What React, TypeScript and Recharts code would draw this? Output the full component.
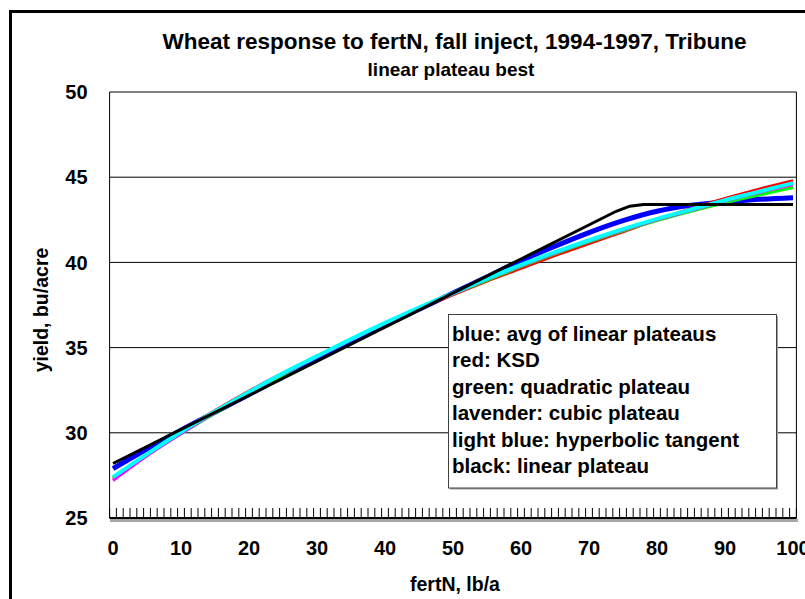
import React from "react";
import { LineChart, Line, XAxis, YAxis, CartesianGrid, ReferenceLine } from "recharts";

// ---- data ----
const fertN = [0, 5, 10, 15, 20, 25, 30, 35, 40, 45, 50, 55, 60, 65, 70, 75, 80, 85, 90, 95, 100];
const blueAvgLinearPlateaus = [27.9, 29.05, 30.15, 31.2, 32.25, 33.3, 34.3, 35.3, 36.3, 37.25, 38.2, 39.15, 40.1, 40.95, 41.75, 42.45, 43.0, 43.35, 43.55, 43.7, 43.8];
const redKSD = [27.3, 28.7, 30.05, 31.3, 32.45, 33.5, 34.5, 35.45, 36.4, 37.3, 38.1, 38.9, 39.65, 40.4, 41.1, 41.8, 42.5, 43.15, 43.75, 44.3, 44.8];
const greenQuadPlateau = [27.35, 28.7, 29.95, 31.15, 32.3, 33.4, 34.45, 35.45, 36.4, 37.3, 38.15, 38.95, 39.75, 40.5, 41.2, 41.85, 42.45, 43.0, 43.5, 43.95, 44.4];
const lavenderCubicPlateau = [27.2, 28.65, 29.95, 31.2, 32.35, 33.45, 34.45, 35.45, 36.4, 37.3, 38.15, 39.0, 39.8, 40.55, 41.25, 41.9, 42.5, 43.05, 43.6, 44.1, 44.55];
const lightBlueHypTangent = [27.4, 28.75, 30.05, 31.25, 32.4, 33.5, 34.5, 35.5, 36.45, 37.35, 38.2, 39.05, 39.85, 40.6, 41.3, 41.95, 42.55, 43.1, 43.65, 44.15, 44.65];
const blackFertN = [0, 20, 40, 60, 74, 76, 78, 100];
const blackLinearPlateau = [28.2, 32.2, 36.2, 40.2, 43.0, 43.3, 43.4, 43.4];

const xTickLabels = [0, 10, 20, 30, 40, 50, 60, 70, 80, 90, 100];
const yTicks = [25, 30, 35, 40, 45, 50];

const titleText = "Wheat response to fertN, fall inject, 1994-1997, Tribune";
const subtitleText = "linear plateau best";
const xAxisTitle = "fertN, lb/a";
const yAxisTitle = "yield, bu/acre";

const seriesNames = [
  "blue: avg of linear plateaus",
  "red: KSD",
  "green: quadratic plateau",
  "lavender: cubic plateau",
  "light blue: hyperbolic tangent",
  "black: linear plateau",
];

// ---- built tables ----
const table = fertN.map((x, i) => ({
  x,
  blue: blueAvgLinearPlateaus[i],
  red: redKSD[i],
  green: greenQuadPlateau[i],
  lavender: lavenderCubicPlateau[i],
  lightBlue: lightBlueHypTangent[i],
}));
const blackTable = blackFertN.map((x, i) => ({ x, black: blackLinearPlateau[i] }));

// minor tick marks at category boundaries
const minorTicks: number[] = [];
for (let k = -0.5; k <= 100.5; k += 1) minorTicks.push(k);
const allXTicks = [...minorTicks, ...xTickLabels];
const labelSet = new Set(xTickLabels);

const FONT = "'Liberation Sans', Arial, Helvetica, sans-serif";

const XTick = (props: any) => {
  const { x, y, payload } = props;
  const v = payload.value;
  if (labelSet.has(v)) {
    return (
      <text x={x} y={y + 37} textAnchor="middle" fontSize={20} fontWeight="bold" fontFamily={FONT} fill="#000">
        {v}
      </text>
    );
  }
  return <line x1={x} x2={x} y1={y} y2={y - 10} stroke="#000" strokeWidth={1} />;
};

export default function App() {
  const W = 805;
  const H = 599;
  return (
    <div style={{ position: "fixed", left: 0, top: 0, width: W, height: H, overflow: "hidden", background: "#fff" }}>
      <div style={{ position: "absolute", left: 0, top: 0 }}>
        <LineChart
          width={W}
          height={H}
          data={table}
          margin={{ top: 92, right: 8.6, bottom: 41, left: 29.6 }}
        >
          <CartesianGrid vertical={false} stroke="#000" strokeWidth={1} />
          <XAxis
            dataKey="x"
            type="number"
            domain={[-0.5, 100.5]}
            ticks={allXTicks}
            interval={0}
            tick={<XTick />}
            tickLine={false}
            tickSize={0}
            tickMargin={0}
            height={40}
            axisLine={{ stroke: "#000", strokeWidth: 2 }}
            allowDataOverflow
          />
          <YAxis
            type="number"
            domain={[25, 50]}
            ticks={yTicks}
            interval={0}
            width={80}
            tickLine={false}
            tickSize={0}
            tickMargin={22}
            axisLine={{ stroke: "#000", strokeWidth: 1 }}
            tick={{ fontSize: 20, fontWeight: "bold", fill: "#000", fontFamily: FONT }}
          />
          <ReferenceLine x={100.5} stroke="#000" strokeWidth={1} />
          <Line type="monotone" dataKey="blue" name={seriesNames[0]} stroke="#0000FF" strokeWidth={5} dot={false} isAnimationActive={false} />
          <Line type="monotone" dataKey="red" name={seriesNames[1]} stroke="#FF0000" strokeWidth={3} dot={false} isAnimationActive={false} />
          <Line type="monotone" dataKey="green" name={seriesNames[2]} stroke="#00FF00" strokeWidth={3} dot={false} isAnimationActive={false} />
          <Line type="monotone" dataKey="lavender" name={seriesNames[3]} stroke="#FF00FF" strokeWidth={3} dot={false} isAnimationActive={false} />
          <Line type="monotone" dataKey="lightBlue" name={seriesNames[4]} stroke="#00FFFF" strokeWidth={4} dot={false} isAnimationActive={false} />
          <Line data={blackTable} type="linear" dataKey="black" name={seriesNames[5]} stroke="#000000" strokeWidth={3} dot={false} isAnimationActive={false} />
        </LineChart>
      </div>
      <svg width={W} height={H} style={{ position: "absolute", left: 0, top: 0, pointerEvents: "none" }}>
        {/* outer chart frame (cropped) */}
        <path d="M10.5,700 V11.5 H900" fill="none" stroke="#000" strokeWidth={3} />
        {/* axis shadow */}
        <rect x={110} y={519} width={688} height={3} fill="#a6a6a6" />
        <g fontFamily={FONT} fontWeight="bold" fill="#000">
          <text x={454.5} y={49} textAnchor="middle" fontSize={22.5}>{titleText}</text>
          <text x={451} y={76} textAnchor="middle" fontSize={19}>{subtitleText}</text>
          <text x={455} y={591} textAnchor="middle" fontSize={19.5}>{xAxisTitle}</text>
          <text transform="translate(48,310) rotate(-90)" textAnchor="middle" fontSize={19.5}>{yAxisTitle}</text>
        </g>
        {/* legend box */}
        <rect x={450} y={316} width={328} height={173.5} fill="#a0a0a0" />
        <rect x={448.5} y={314.5} width={328} height={173.5} fill="#fff" stroke="#404040" strokeWidth={1} />
        <g fontFamily={FONT} fontWeight="bold" fill="#000" fontSize={20.5}>
          {seriesNames.map((n, i) => (
            <text key={n} x={452} y={341 + i * 26.46}>{n}</text>
          ))}
        </g>
      </svg>
    </div>
  );
}
